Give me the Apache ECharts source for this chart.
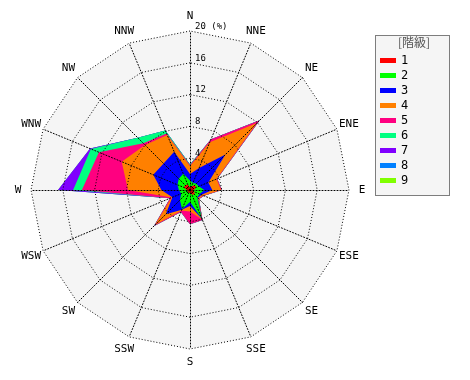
<!DOCTYPE html>
<html><head><meta charset="utf-8">
<script src="https://cdn.jsdelivr.net/npm/echarts@6/dist/echarts.min.js"></script>
<style>html,body{margin:0;padding:0;background:#fff}#c{width:470px;height:380px}</style>
</head><body><div id="c"></div>
<script>
// Directions, clockwise from north
const directions = ['N','NNE','NE','ENE','E','ESE','SE','SSE','S','SSW','SW','WSW','W','WNW','NW','NNW'];
// Class names (階級) and colours
const classNames = ['1','2','3','4','5','6','7','8','9'];
const classColors = ['#ff0000','#00ff00','#0000ff','#ff8000','#ff0080','#00ff80','#8000ff','#0080ff','#80ff00'];
// Frequency (%) per class, per direction (N, NNE, ... NNW)
const class1 = [0.3,0.5,0.9,0.8,0.5,0.6,0.8,0.6,0.3,0.4,0.3,0.3,0.4,0.8,0.9,0.7];
const class2 = [0.9,0.5,0.2,0.4,1.3,0.7,0.5,3.2,1.2,2.2,1.5,0.9,1.0,0.9,1.1,1.5];
const class3 = [0.8,2.0,5.2,1.3,1.0,0.3,0.1,0.1,0.5,0.1,2.5,1.2,2.2,3.3,2.7,3.0];
const class4 = [1.0,3.5,5.6,1.1,1.1,0.2,0.1,0.1,0.7,0.1,1.9,0.1,4.2,4.3,3.3,2.3];
const class5 = [0.1,0.4,0.5,0.1,0.1,0.1,0.1,0.1,1.6,0.2,0.2,0.2,5.8,3.1,0.3,0.2];
const class6 = [0.1,0,0,0,0,0,0,0,0,0,0,0,1.1,1.1,1.0,0.4];
const class7 = [0,0,0,0,0,0,0,0,0,0,0,0,1.9,0.1,0,0];
const class8 = [0,0,0,0,0,0,0,0,0,0,0,0,0,0,0,0];
const class9 = [0,0,0,0,0,0,0,0,0,0,0,0,0,0,0,0];
// Radial axis
const axisMax = 20;
const axisSplit = 5;
const unitLabel = '(%)';

const classValues = [class1,class2,class3,class4,class5,class6,class7,class8,class9];
// cumulative (stacked) values
const cumulative = [];
classValues.forEach((arr, k) => {
  cumulative.push(arr.map((v, d) => (k ? cumulative[k-1][d] : 0) + v));
});
// radar indicators run counter-clockwise: N, NNW, NW, ...
const order = [0].concat(directions.map((_, i) => directions.length - 1 - i).slice(0, directions.length - 1));
const indicatorsBase = order.map(i => ({ name: directions[i], min: 0, max: axisMax }));
const indicatorsTop = order.map((i, j) => j === 0
  ? { name: directions[i], min: 0, max: axisMax, axisLabel: { show: true } }
  : { name: directions[i], min: 0, max: axisMax });

const seriesData = [];
for (let k = classNames.length - 1; k >= 0; k--) {
  seriesData.push({
    name: classNames[k],
    value: order.map(i => +cumulative[k][i].toFixed(2)),
    itemStyle: { color: classColors[k] },
    areaStyle: { color: classColors[k], opacity: 1 },
    lineStyle: { width: 0, opacity: 0 },
    symbol: 'none'
  });
}

const dotted = { color: '#000', type: [1, 2], width: 1 };
const chart = echarts.init(document.getElementById('c'), null, { renderer: 'canvas' });
chart.setOption({
  animation: false,
  backgroundColor: '#fff',
  radar: [
    {
      z: 0,
      center: [190, 190], radius: 159, startAngle: 90, shape: 'polygon',
      splitNumber: axisSplit, indicator: indicatorsBase,
      axisName: { show: false },
      splitLine: { show: false },
      axisLine: { show: false },
      axisTick: { show: false },
      axisLabel: { show: false },
      splitArea: { show: true, areaStyle: { color: ['#f5f5f5'] } }
    },
    {
      z: 5,
      center: [190, 190], radius: 159, startAngle: 90, shape: 'polygon',
      splitNumber: axisSplit, indicator: indicatorsTop,
      nameGap: 13,
      axisName: { color: '#000', fontFamily: 'DejaVu Sans Mono', fontSize: 11, align: 'center', verticalAlign: 'middle' },
      splitLine: { lineStyle: dotted },
      axisLine: { lineStyle: dotted },
      axisTick: { show: false },
      splitArea: { show: false },
      axisLabel: {
        show: false, color: '#000', fontFamily: 'DejaVu Sans Mono', fontSize: 9,
        align: 'left', verticalAlign: 'bottom', margin: -5,
        formatter: v => v === 0 ? '' : (v === axisMax ? v + ' ' + unitLabel : String(v))
      }
    }
  ],
  legend: {
    orient: 'vertical', left: 380, top: 53, z: 6, padding: 0,
    data: classNames, icon: 'rect', itemWidth: 16, itemHeight: 5, itemGap: 0,
    textStyle: { color: '#000', fontFamily: 'DejaVu Sans Mono', fontSize: 12, lineHeight: 15 },
    selectedMode: false
  },
  graphic: [
    { type: 'rect', z: 1, shape: { x: 375.5, y: 35.5, width: 74, height: 160 },
      style: { fill: '#f5f5f5', stroke: '#000', lineWidth: 1, lineDash: [1, 1] } },
    { type: 'text', z: 2, left: 398, top: 36,
      style: { text: '[階級]', fill: '#555', font: '12px "Noto Sans CJK JP"' } }
  ],
  series: [{
    type: 'radar', radarIndex: 0, z: 2,
    data: seriesData
  }]
});
</script></body></html>
